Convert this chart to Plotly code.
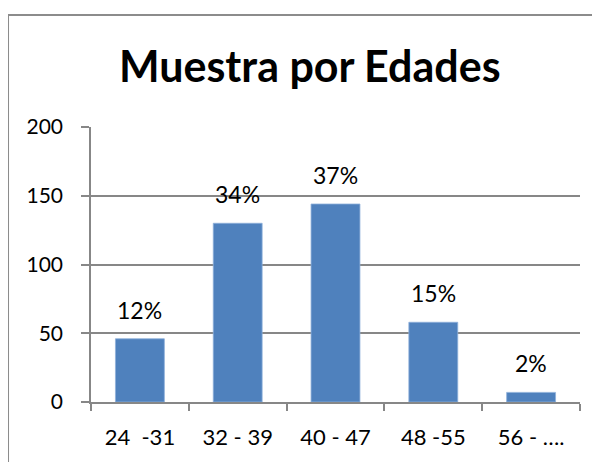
import plotly.graph_objects as go

categories = ["24  -31", "32 - 39", "40 - 47", "48 -55", "56 - …."]
values = [46, 130, 144, 58, 7]
pct_labels = ["12%", "34%", "37%", "15%", "2%"]
y_ticks = [0, 50, 100, 150, 200]

font_name = "Lato"
grey = "#878787"

fig = go.Figure()
fig.add_trace(go.Bar(x=categories, y=values,
                     marker=dict(color="#4F81BD", line=dict(color="#8EB0DB", width=0.8)),
                     hoverinfo="skip"))

# data labels above each bar
for cat, val, lab in zip(categories, values, pct_labels):
    fig.add_annotation(x=cat, y=val, text=lab, showarrow=False,
                       yanchor="bottom", yshift=13,
                       font=dict(family=font_name, size=23, color="#000000"))

# outer chart border (Excel chart area)
fig.add_shape(type="rect", xref="paper", yref="paper",
              x0=-0.1697, x1=1.08, y0=-0.3, y1=1.407,
              line=dict(color="#8C8C8C", width=2))

# page body has an 8px margin, so the plot area is placed 8px up/left
fig.update_layout(
    width=600, height=462,
    margin=dict(l=83, r=28, t=119, b=68),
    paper_bgcolor="white", plot_bgcolor="white",
    bargap=0.5,
    showlegend=False,
    title=dict(text="<b>Muestra por Edades</b>", x=0.503, xanchor="center",
               y=0.873, yanchor="middle",
               font=dict(family=font_name, size=43, color="#000000")),
    font=dict(family=font_name, size=22, color="#000000"),
)
fig.update_xaxes(showline=True, linecolor=grey, linewidth=1.5,
                 ticks="outside", tickson="boundaries", ticklen=7,
                 tickcolor=grey, tickwidth=1.5,
                 ticklabelstandoff=15, showgrid=False)
fig.update_yaxes(range=[0, 200], tickvals=y_ticks, showline=True,
                 linecolor=grey, linewidth=1.5, ticks="outside", ticklen=8,
                 tickcolor=grey, tickwidth=1.5, showgrid=True,
                 gridcolor=grey, gridwidth=1.5, zeroline=False,
                 ticklabelstandoff=14, tickfont=dict(size=21))

fig.write_html("out.html")
